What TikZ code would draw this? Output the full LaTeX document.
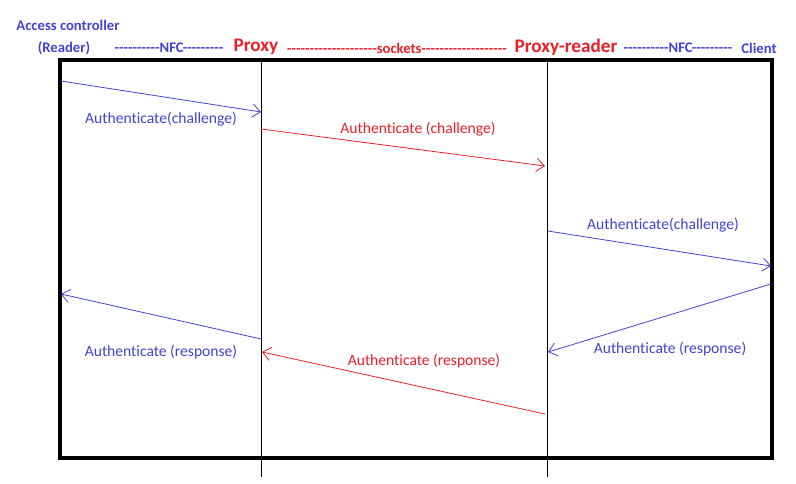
\documentclass[tikz,border=0pt]{standalone}
\usepackage{fontspec}
\setmainfont{Carlito}[Ligatures={TeXOff,CommonOff}]
\usetikzlibrary{arrows.meta}
\definecolor{nfcblue}{RGB}{66,66,212}
\definecolor{sockred}{RGB}{232,32,40}

\begin{document}
\begin{tikzpicture}[x=0.75pt, y=-0.75pt,
  every node/.style = {inner sep=0pt, font=\fontsize{11.7}{14}\selectfont},
  head/.style = {font=\bfseries\fontsize{11}{13}\selectfont, text=nfcblue},
  party/.style = {font=\bfseries\fontsize{14.4}{17}\selectfont, text=sockred},
  msg/.style = {-{Straight Barb[length=6pt,width=10pt]}, line width=0.6pt}]
  \useasboundingbox (0,0) rectangle (796,483);

  % header
  \node[head] (ac) at (68,25) {Access controller};
  \node[head] (reader) at (64,48) {(Reader)};
  \node[head] (nfcl) at (169,48) {----------NFC---------};
  \node[party] (proxy) at (256,47) {Proxy};
  \node[head, text=sockred] (sock) at (397,48) {--------------------sockets-------------------};
  \node[party] (preader) at (566,47) {Proxy-reader};
  \node[head] (nfcr) at (678,48) {----------NFC---------};
  \node[head] (client) at (759,48) {Client};

  % frame and lifelines
  \draw[line width=3pt] (60,60) rectangle (772,458);
  \coordinate (pxtop) at (261,60);
  \coordinate (pxbot) at (261,477);
  \coordinate (prtop) at (547,60);
  \coordinate (prbot) at (547,477);
  \draw (pxtop) -- (pxbot);
  \draw (prtop) -- (prbot);

  % message ends
  \coordinate (m1a) at (61,81);   \coordinate (m1b) at (261,112);
  \coordinate (m2a) at (261,129); \coordinate (m2b) at (545,166);
  \coordinate (m3a) at (548,231); \coordinate (m3b) at (771,266);
  \coordinate (m4a) at (771,284); \coordinate (m4b) at (548,352);
  \coordinate (m5a) at (545,414); \coordinate (m5b) at (262,352);
  \coordinate (m6a) at (261,339); \coordinate (m6b) at (61,294);

  \draw[msg, nfcblue] (m1a) -- (m1b);
  \draw[msg, sockred] (m2a) -- (m2b);
  \draw[msg, nfcblue] (m3a) -- (m3b);
  \draw[msg, nfcblue] (m4a) -- (m4b);
  \draw[msg, sockred] (m5a) -- (m5b);
  \draw[msg, nfcblue] (m6a) -- (m6b);

  % labels
  \node[text=nfcblue] (l1) at (161,119) {Authenticate(challenge)};
  \node[text=sockred] (l2) at (418,129) {Authenticate (challenge)};
  \node[text=nfcblue] (l3) at (663,225) {Authenticate(challenge)};
  \node[text=nfcblue] (l4) at (670,349) {Authenticate (response)};
  \node[text=sockred] (l5) at (424,361) {Authenticate (response)};
  \node[text=nfcblue] (l6) at (161,352) {Authenticate (response)};
\end{tikzpicture}
\end{document}
